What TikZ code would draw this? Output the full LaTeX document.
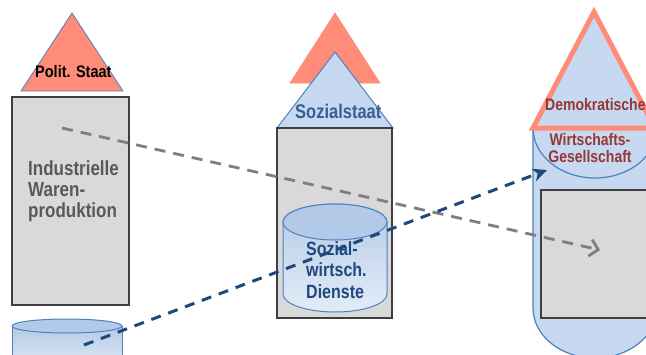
\documentclass[tikz,border=0pt]{standalone}
\usepackage{fontspec}
\setmainfont{Liberation Sans}
\usetikzlibrary{arrows.meta}

\definecolor{salmon}{HTML}{FF8C78}
\definecolor{paleblue}{HTML}{C6D9F1}
\definecolor{edgeblue}{HTML}{4F81BD}
\definecolor{boxgray}{HTML}{D9D9D9}
\definecolor{boxedge}{HTML}{3F3F3F}
\definecolor{txtgray}{HTML}{595959}
\definecolor{navy}{HTML}{1F497D}
\definecolor{steel}{HTML}{376092}
\definecolor{darkred}{HTML}{953735}
\definecolor{arrowgray}{HTML}{7F7F7F}
\definecolor{cyltop}{HTML}{B4CAE6}
\definecolor{cylbot}{HTML}{E3ECF7}
\definecolor{cyllid}{HTML}{B3C9E8}

% a slightly tall stack of lines
\newcommand{\tallstack}[2][l]{\scalebox{1}[1.2]{\begin{tabular}[t]{@{}#1@{}}#2\end{tabular}}}

\tikzset{
  block/.style={fill=boxgray, draw=boxedge, line width=1.6pt},
  roof/.style={fill=salmon, draw=edgeblue, line width=0.8pt},
  bluepart/.style={fill=paleblue, draw=edgeblue, line width=1pt},
  drum/.style={top color=cyltop, bottom color=cylbot, draw=edgeblue, line width=1pt},
  lid/.style={fill=cyllid, draw=edgeblue, line width=1pt},
  label/.style={inner sep=0pt, anchor=base west, font=\bfseries},
  flowgray/.style={draw=arrowgray, line width=2.8pt, dash pattern=on 11pt off 8pt,
    -{Straight Barb[length=8pt,width=17pt]}},
  flowblue/.style={draw=navy, line width=3pt, dash pattern=on 10pt off 8pt,
    -{Stealth[length=14pt,width=13pt,inset=4pt]}},
}

\begin{document}
\begin{tikzpicture}[x=1pt,y=-1pt]
\useasboundingbox (0,0) rectangle (646,354);
\clip (0,0) rectangle (646,354);
\fill[white] (0,0) rectangle (646,354);

% ---- left pillar: commodity production under the political state
\draw[roof] (21,91) -- (72,13) -- (123,91) -- cycle;
\draw[block] (12,97) rectangle (129,305);
\path[drum] (12,326) -- (12,370) -- (122,370) -- (122,326) -- cycle;
\draw[lid] (67,326) ellipse [x radius=55, y radius=7];

% ---- middle pillar: welfare state
\draw[fill=salmon, draw=salmon, line width=0.6pt] (290,83) -- (335,13) -- (380,83) -- cycle;
\draw[bluepart] (277,128) -- (335,52) -- (393,128) -- cycle;
\draw[block] (277,128) rectangle (392,318);
\path[drum] (283,222) -- (283,294)
  arc[start angle=180, end angle=0, x radius=52, y radius=18]
  -- (387,222)
  arc[start angle=0, end angle=-180, x radius=52, y radius=18] -- cycle;
\draw[lid] (335,222) ellipse [x radius=52, y radius=18];

% ---- right pillar: democratic economic society
\path[fill=paleblue] (533,128) -- (533,308)
  arc[start angle=180, end angle=0, x radius=62, y radius=50]
  -- (657,128) -- cycle;
\draw[edgeblue, line width=1.2pt] (533,128) -- (533,308)
  arc[start angle=180, end angle=0, x radius=62, y radius=50] -- (657,128);
\draw[edgeblue, line width=1.2pt] (533,128)
  arc[start angle=180, end angle=0, x radius=62, y radius=50];
\draw[fill=paleblue, draw=salmon, line width=5pt] (533,128) -- (594,12) -- (655,128) -- cycle;
\draw[block] (541,190) rectangle (664,318);

% ---- labels
\node[label, font=\bfseries\fontsize{14.5}{16}\selectfont, text=black] (polit) at (35,77)
  {\scalebox{1}[1.15]{Polit. Staat}};
\node[label, font=\bfseries\fontsize{17}{17.5}\selectfont, text=txtgray] (indus) at (28,175)
  {\tallstack{Industrielle\\Waren-\\produktion}};
\node[label, font=\bfseries\fontsize{16.5}{17}\selectfont, text=steel] (sozst) at (295,118)
  {\scalebox{1}[1.2]{Sozialstaat}};
\node[label, font=\bfseries\fontsize{16}{18}\selectfont, text=navy] (dienst) at (306,255)
  {\tallstack{Sozial-\\wirtsch.\\Dienste}};
\node[label, font=\bfseries\fontsize{14}{15}\selectfont, text=darkred] (demo) at (545,110)
  {\scalebox{1}[1.2]{Demokratische}};
\node[inner sep=0pt, anchor=base, font=\bfseries\fontsize{14}{14.5}\selectfont, text=darkred] (wges) at (590,145)
  {\tallstack[c]{Wirtschafts-\\Gesellschaft}};

% ---- flows
\coordinate (gstart) at (62,128);
\coordinate (gend) at (600,250);
\coordinate (bstart) at (84,345);
\coordinate (bend) at (547,170);
\draw[flowgray] (gstart) -- (gend);
\draw[flowblue] (bstart) -- (bend);
\end{tikzpicture}
\end{document}
